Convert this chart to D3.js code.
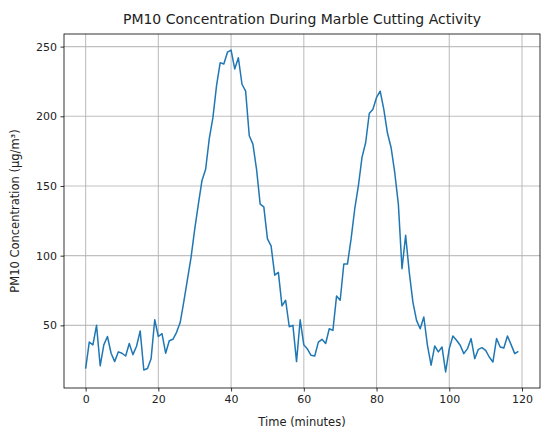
<!DOCTYPE html>
<html lang="en">
<head>
  <meta charset="UTF-8" />
  <title>PM10</title>
  <script src="https://cdn.jsdelivr.net/npm/d3@7/dist/d3.min.js"></script>
  <style>
    html, body { margin: 0; padding: 0; background: #fff; overflow: hidden; }
    svg { display: block; }
    text { font-family: "DejaVu Sans", sans-serif; fill: #222; }
  </style>
</head>
<body>
  <svg id="svg"></svg>
</body>
<script>
  // minutes 0..119
  const minutes = d3.range(0, 120);
  const pm10 = [
    19, 38, 36, 50, 21, 36, 42, 30, 24, 31,
    30, 28, 37, 29, 35, 46, 18, 19, 26, 54,
    42, 44, 30, 39, 40, 45, 52, 67, 83, 99,
    119, 137, 154, 162, 184, 199, 222, 238.5, 237.5, 246,
    247.5, 234, 242, 223, 218, 186, 180, 162, 137, 135,
    112, 107, 86, 88, 64, 68, 49, 50, 24, 54,
    36, 33, 28.5, 28, 38, 40, 37, 47.6, 46.4, 71,
    68, 94, 94, 112, 133.5, 150, 170.5, 181, 202, 205,
    213.5, 218, 205, 188, 177.6, 159.7, 137, 90.6, 114.6, 88,
    66.7, 53.6, 47.6, 56, 35.7, 21.4, 35.2, 31, 34.5, 16.6,
    33.3, 42.4, 39.3, 35.7, 29.7, 33.3, 40.5, 26.1, 32.8, 34,
    32.1, 27.3, 23.7, 40.5, 34.5, 33.8, 42.4, 36.2, 29.7, 31.4
  ];
  const xTicks = [0, 20, 40, 60, 80, 100, 120];
  const yTicks = [50, 100, 150, 200, 250];

  const width = 541;
  const height = 432;
  const margin = { top: 34, right: 1, bottom: 44, left: 64 };
  const innerWidth = width - margin.left - margin.right;
  const innerHeight = height - margin.top - margin.bottom;

  const svg = d3.select("#svg").attr("width", width).attr("height", height);
  const g = svg.append("g")
    .attr("transform", `translate(${margin.left}, ${margin.top})`);

  // matplotlib style 5% margins
  const xr = d3.extent(minutes), yr = d3.extent(pm10);
  const xPad = (xr[1] - xr[0]) * 0.05, yPad = (yr[1] - yr[0]) * 0.05;

  const xScale = d3.scaleLinear()
    .domain([xr[0] - xPad, xr[1] + xPad])
    .range([0, innerWidth]);
  const yScale = d3.scaleLinear()
    .domain([yr[0] - yPad, yr[1] + yPad])
    .range([innerHeight, 0]);

  // grid
  g.append("g").selectAll("line").data(xTicks).join("line")
    .attr("x1", d => xScale(d)).attr("x2", d => xScale(d))
    .attr("y1", 0).attr("y2", innerHeight)
    .attr("stroke", "#b0b0b0").attr("stroke-opacity", 0.8).attr("stroke-width", 1.1);
  g.append("g").selectAll("line").data(yTicks).join("line")
    .attr("y1", d => yScale(d)).attr("y2", d => yScale(d))
    .attr("x1", 0).attr("x2", innerWidth)
    .attr("stroke", "#b0b0b0").attr("stroke-opacity", 0.8).attr("stroke-width", 1.1);

  // line
  const line = d3.line()
    .x((d, i) => xScale(minutes[i]))
    .y(d => yScale(d));
  g.append("path")
    .datum(pm10)
    .attr("d", line)
    .attr("fill", "none")
    .attr("stroke", "#1f77b4")
    .attr("stroke-width", 1.5)
    .attr("stroke-linejoin", "round");

  // frame
  g.append("rect")
    .attr("width", innerWidth).attr("height", innerHeight)
    .attr("fill", "none").attr("stroke", "#000").attr("stroke-width", 0.8);

  // axes
  const xAxis = d3.axisBottom(xScale).tickValues(xTicks).tickSize(3.5).tickPadding(3.5);
  const yAxis = d3.axisLeft(yScale).tickValues(yTicks).tickSize(3.5).tickPadding(3.5);
  const gx = g.append("g").attr("transform", `translate(0, ${innerHeight})`).call(xAxis);
  const gy = g.append("g").call(yAxis);
  [gx, gy].forEach(a => {
    a.select(".domain").remove();
    a.selectAll(".tick line").attr("stroke", "#000").attr("stroke-width", 0.8);
    a.selectAll(".tick text").attr("font-size", 11).attr("fill", "#222")
      .attr("font-family", "DejaVu Sans, sans-serif");
  });

  // labels
  svg.append("text")
    .text("PM10 Concentration During Marble Cutting Activity")
    .attr("x", margin.left + innerWidth / 2)
    .attr("y", 24)
    .attr("text-anchor", "middle")
    .attr("font-size", 14);

  svg.append("text")
    .text("Time (minutes)")
    .attr("x", margin.left + innerWidth / 2)
    .attr("y", 426)
    .attr("text-anchor", "middle")
    .attr("font-size", 11.5);

  svg.append("text")
    .text("PM10 Concentration (µg/m³)")
    .attr("transform", `translate(19, ${margin.top + innerHeight / 2}) rotate(-90)`)
    .attr("text-anchor", "middle")
    .attr("font-size", 11.5);
</script>
</html>
